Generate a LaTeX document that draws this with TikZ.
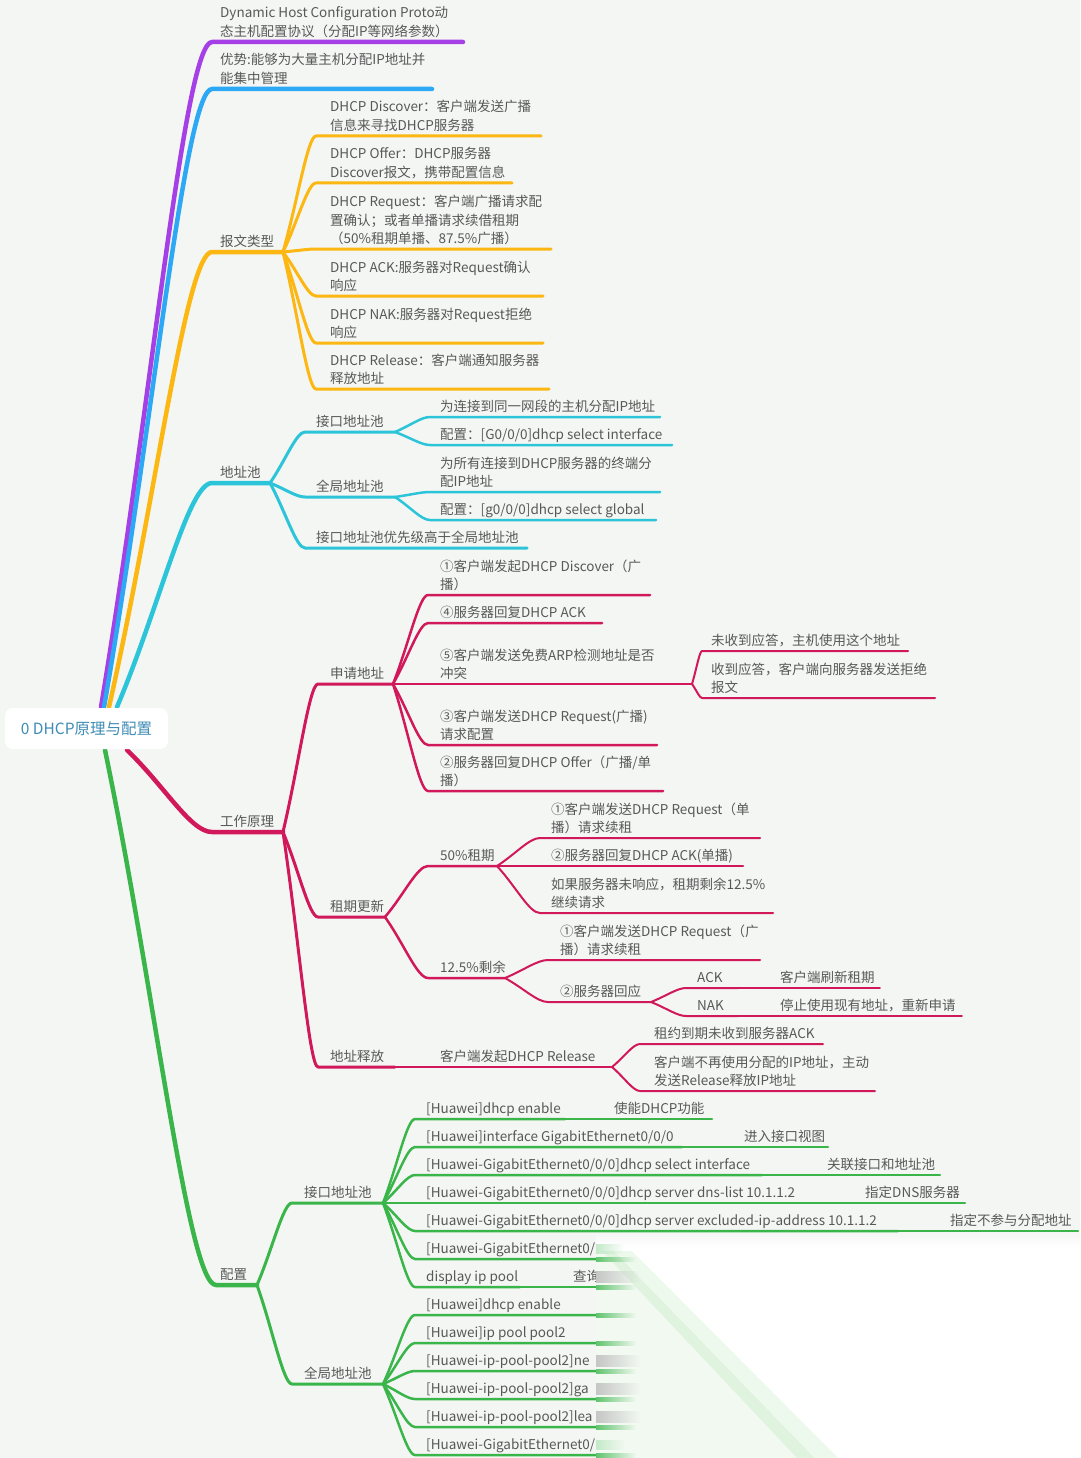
\documentclass[tikz,border=0pt]{standalone}
\usepackage{fontspec}
\setmainfont{Noto Sans CJK SC}
\usetikzlibrary{calc,fadings}
\definecolor{bgc}{HTML}{F4F6F4}
\definecolor{txtc}{HTML}{585858}
\definecolor{roottc}{HTML}{3F8CB5}
\definecolor{pur}{HTML}{A53FE6}
\definecolor{blu}{HTML}{2DA8F4}
\definecolor{yel}{HTML}{FCB712}
\definecolor{cya}{HTML}{2BC4D9}
\definecolor{cri}{HTML}{D0185A}
\definecolor{gre}{HTML}{3AB54A}
\definecolor{paleg}{HTML}{F1F9F1}
\definecolor{bandg}{HTML}{DFF3DF}
\definecolor{bandl}{HTML}{EEF9EE}
\newcommand\dep{\rule[-4pt]{0pt}{4pt}}
\newcommand\tp[8]{%
  \coordinate (#1s) at (#4,#5);
  \coordinate (#1) at (#6,#5);
  \draw[#3] (#2) to[cv] (#1s) -- (#1);
  \node[txt] (#1t) at (#7,#5-1) {#8\dep};
}
\tikzset{
  cv/.style={to path={.. controls ($(\tikztostart)!0.45!(\tikztotarget)$) and ($(\tikztostart |- \tikztotarget)!0.75!(\tikztotarget)$) .. (\tikztotarget)}},
  lv1/.style={draw=#1, line width=4.5pt, line cap=round, line join=round},
  lv2/.style={draw=#1, line width=3pt, line cap=round, line join=round},
  lv3/.style={draw=#1, line width=2.5pt, line cap=round, line join=round},
  lv4/.style={draw=#1, line width=2pt, line cap=round, line join=round},
  lv5/.style={draw=#1, line width=1.5pt, line cap=round, line join=round},
  txt/.style={anchor=south west, inner sep=0pt, align=left, text=txtc, font=\fontsize{13.5}{18.8}\selectfont},
}
\begin{document}
\begin{tikzpicture}[x=1pt,y=-1pt]
\fill[bgc] (0,0) rectangle (1080,1458);
\useasboundingbox (0,0) rectangle (1080,1458);

% root attachment points
\coordinate (rP) at (101,707);
\coordinate (rB) at (104,707);
\coordinate (rY) at (109,707);
\coordinate (rC) at (117,707);
\coordinate (rR) at (127,750);
\coordinate (rG) at (105,750);

% main branches
\tp{m1}{rP}{lv1=pur}{212}{42}{463}{220}{Dynamic Host Configuration Proto动\\态主机配置协议（分配IP等网络参数）}
\tp{m2}{rB}{lv1=blu}{212}{89}{432}{220}{优势:能够为大量主机分配IP地址并\\能集中管理}
\tp{m3}{rY}{lv1=yel}{212}{252}{283}{220}{报文类型}
\tp{m4}{rC}{lv1=cya}{212}{483}{270}{220}{地址池}
\tp{m5}{rR}{lv1=cri}{212}{832}{283}{220}{工作原理}
\tp{m6}{rG}{lv1=gre}{216}{1285}{257}{220}{配置}

% 报文类型
\tp{y1}{m3}{lv2=yel}{316}{136}{541}{330}{DHCP Discover：客户端发送广播\\信息来寻找DHCP服务器}
\tp{y2}{m3}{lv2=yel}{316}{183}{512}{330}{DHCP Offer：DHCP服务器\\Discover报文，携带配置信息}
\tp{y3}{m3}{lv2=yel}{316}{249}{551}{330}{DHCP Request：客户端广播请求配\\置确认；或者单播请求续借租期\\（50\%租期单播、87.5\%广播）}
\tp{y4}{m3}{lv2=yel}{316}{296}{543}{330}{DHCP ACK:服务器对Request确认\\响应}
\tp{y5}{m3}{lv2=yel}{316}{343}{543}{330}{DHCP NAK:服务器对Request拒绝\\响应}
\tp{y6}{m3}{lv2=yel}{316}{389}{549}{330}{DHCP Release：客户端通知服务器\\释放地址}

% 地址池
\tp{c1}{m4}{lv2=cya}{305}{432}{395}{316}{接口地址池}
\tp{c2}{m4}{lv2=cya}{305}{497}{395}{316}{全局地址池}
\tp{c3}{m4}{lv2=cya}{305}{548}{527}{316}{接口地址池优先级高于全局地址池}
\tp{c11}{c1}{lv3=cya}{430}{417}{660}{440}{为连接到同一网段的主机分配IP地址}
\tp{c12}{c1}{lv3=cya}{430}{445}{672}{440}{配置：[G0/0/0]dhcp select interface}
\tp{c21}{c2}{lv3=cya}{430}{492}{660}{440}{为所有连接到DHCP服务器的终端分\\配IP地址}
\tp{c22}{c2}{lv3=cya}{430}{520}{656}{440}{配置：[g0/0/0]dhcp select global}

% 工作原理
\tp{r1}{m5}{lv2=cri}{318}{684}{393}{330}{申请地址}
\tp{r2}{m5}{lv2=cri}{318}{917}{385}{330}{租期更新}
\tp{r3}{m5}{lv2=cri}{318}{1067}{395}{330}{地址释放}
\tp{r11}{r1}{lv3=cri}{428}{595}{650}{440}{①客户端发起DHCP Discover（广\\播）}
\tp{r12}{r1}{lv3=cri}{428}{623}{602}{440}{④服务器回复DHCP ACK}
\tp{r13}{r1}{lv3=cri}{428}{684}{692}{440}{⑤客户端发送免费ARP检测地址是否\\冲突}
\tp{r14}{r1}{lv3=cri}{428}{745}{657}{440}{③客户端发送DHCP Request(广播)\\请求配置}
\tp{r15}{r1}{lv3=cri}{428}{791}{663}{440}{②服务器回复DHCP Offer（广播/单\\播）}
\tp{r131}{r13}{lv4=cri}{702}{651}{908}{711}{未收到应答，主机使用这个地址}
\tp{r132}{r13}{lv4=cri}{702}{698}{935}{711}{收到应答，客户端向服务器发送拒绝\\报文}
\tp{r21}{r2}{lv3=cri}{428}{866}{497}{440}{50\%租期}
\tp{r22}{r2}{lv3=cri}{428}{978}{505}{440}{12.5\%剩余}
\tp{r211}{r21}{lv4=cri}{540}{838}{760}{551}{①客户端发送DHCP Request（单\\播）请求续租}
\tp{r212}{r21}{lv4=cri}{540}{866}{743}{551}{②服务器回复DHCP ACK(单播)}
\tp{r213}{r21}{lv4=cri}{540}{913}{773}{551}{如果服务器未响应，租期剩余12.5\%\\继续请求}
\tp{r221}{r22}{lv4=cri}{548}{960}{760}{560}{①客户端发送DHCP Request（广\\播）请求续租}
\tp{r222}{r22}{lv4=cri}{548}{1002}{651}{560}{②服务器回应}
\tp{r2221}{r222}{lv4=cri}{686}{988}{738}{697}{ACK}
\tp{r2222}{r222}{lv4=cri}{686}{1016}{738}{697}{NAK}
\tp{r22211}{r2221}{lv5=cri}{745}{988}{880}{780}{客户端刷新租期}
\tp{r22221}{r2222}{lv5=cri}{745}{1016}{962}{780}{停止使用现有地址，重新申请}
\tp{r31}{r3}{lv3=cri}{400}{1067}{612}{440}{客户端发起DHCP Release}
\tp{r311}{r31}{lv4=cri}{640}{1044}{823}{654}{租约到期未收到服务器ACK}
\tp{r312}{r31}{lv4=cri}{640}{1091}{875}{654}{客户端不再使用分配的IP地址，主动\\发送Release释放IP地址}

% 配置
\tp{g1}{m6}{lv2=gre}{292}{1203}{383}{304}{接口地址池}
\tp{g2}{m6}{lv2=gre}{292}{1384}{383}{304}{全局地址池}
\tp{g11}{g1}{lv3=gre}{415}{1119}{565}{426}{[Huawei]dhcp enable}
\tp{g12}{g1}{lv3=gre}{415}{1147}{682}{426}{[Huawei]interface GigabitEthernet0/0/0}
\tp{g13}{g1}{lv3=gre}{415}{1175}{762}{426}{[Huawei-GigabitEthernet0/0/0]dhcp select interface}
\tp{g14}{g1}{lv3=gre}{415}{1203}{812}{426}{[Huawei-GigabitEthernet0/0/0]dhcp server dns-list 10.1.1.2}
\tp{g15}{g1}{lv3=gre}{415}{1231}{898}{426}{[Huawei-GigabitEthernet0/0/0]dhcp server excluded-ip-address 10.1.1.2}
\tp{g16}{g1}{lv3=gre}{415}{1259}{640}{426}{[Huawei-GigabitEthernet0/}
\tp{g17}{g1}{lv3=gre}{415}{1287}{520}{426}{display ip pool}
\tp{g111}{g11}{lv4=gre}{570}{1119}{712}{614}{使能DHCP功能}
\tp{g121}{g12}{lv4=gre}{687}{1147}{828}{744}{进入接口视图}
\tp{g131}{g13}{lv4=gre}{767}{1175}{940}{827}{关联接口和地址池}
\tp{g141}{g14}{lv4=gre}{817}{1203}{965}{865}{指定DNS服务器}
\tp{g151}{g15}{lv4=gre}{903}{1231}{1078}{950}{指定不参与分配地址}
\tp{g171}{g17}{lv4=gre}{525}{1287}{640}{573}{查询}
\tp{g21}{g2}{lv3=gre}{415}{1315}{640}{426}{[Huawei]dhcp enable}
\tp{g22}{g2}{lv3=gre}{415}{1343}{640}{426}{[Huawei]ip pool pool2}
\tp{g23}{g2}{lv3=gre}{415}{1371}{640}{426}{[Huawei-ip-pool-pool2]ne}
\tp{g24}{g2}{lv3=gre}{415}{1399}{640}{426}{[Huawei-ip-pool-pool2]ga}
\tp{g25}{g2}{lv3=gre}{415}{1427}{640}{426}{[Huawei-ip-pool-pool2]lea}
\tp{g26}{g2}{lv3=gre}{415}{1455}{640}{426}{[Huawei-GigabitEthernet0/}

% root
\node[fill=white, rounded corners=8pt, minimum width=163pt, minimum height=41pt, inner sep=0pt,
      font=\fontsize{15.5}{18}\selectfont, text=roottc] (root) at (86.5,728.5) {0 DHCP原理与配置};

% occluding white overlay (bottom right)
\fill[white] (596,1246) rectangle (1080,1458);
\shade[top color=bgc, bottom color=white] (596,1233) rectangle (1080,1247);
\fill[paleg] (596,1247) -- (602,1251) -- (797,1458) -- (596,1458) -- cycle;
\fill[bandg] (602,1251) -- (614,1251) -- (815,1458) -- (797,1458) -- cycle;
\fill[bandl] (614,1251) -- (632,1251) -- (838,1458) -- (815,1458) -- cycle;
% blurred text ends
\foreach \yy in {1277,1361,1389,1417}{
  \fill[gray!45, path fading=east] (596,\yy-6) rectangle (640,\yy+6);
}
\foreach \yy in {1249,1445}{
  \fill[gre!30, path fading=east] (596,\yy-5) rectangle (624,\yy+5);
}
% blurred line ends
\foreach \yy in {1259,1287,1315,1343,1371,1399,1427,1455}{
  \fill[gre!80, path fading=east] (596,\yy-2.5) rectangle (636,\yy+2.5);
}
\end{tikzpicture}
\end{document}
